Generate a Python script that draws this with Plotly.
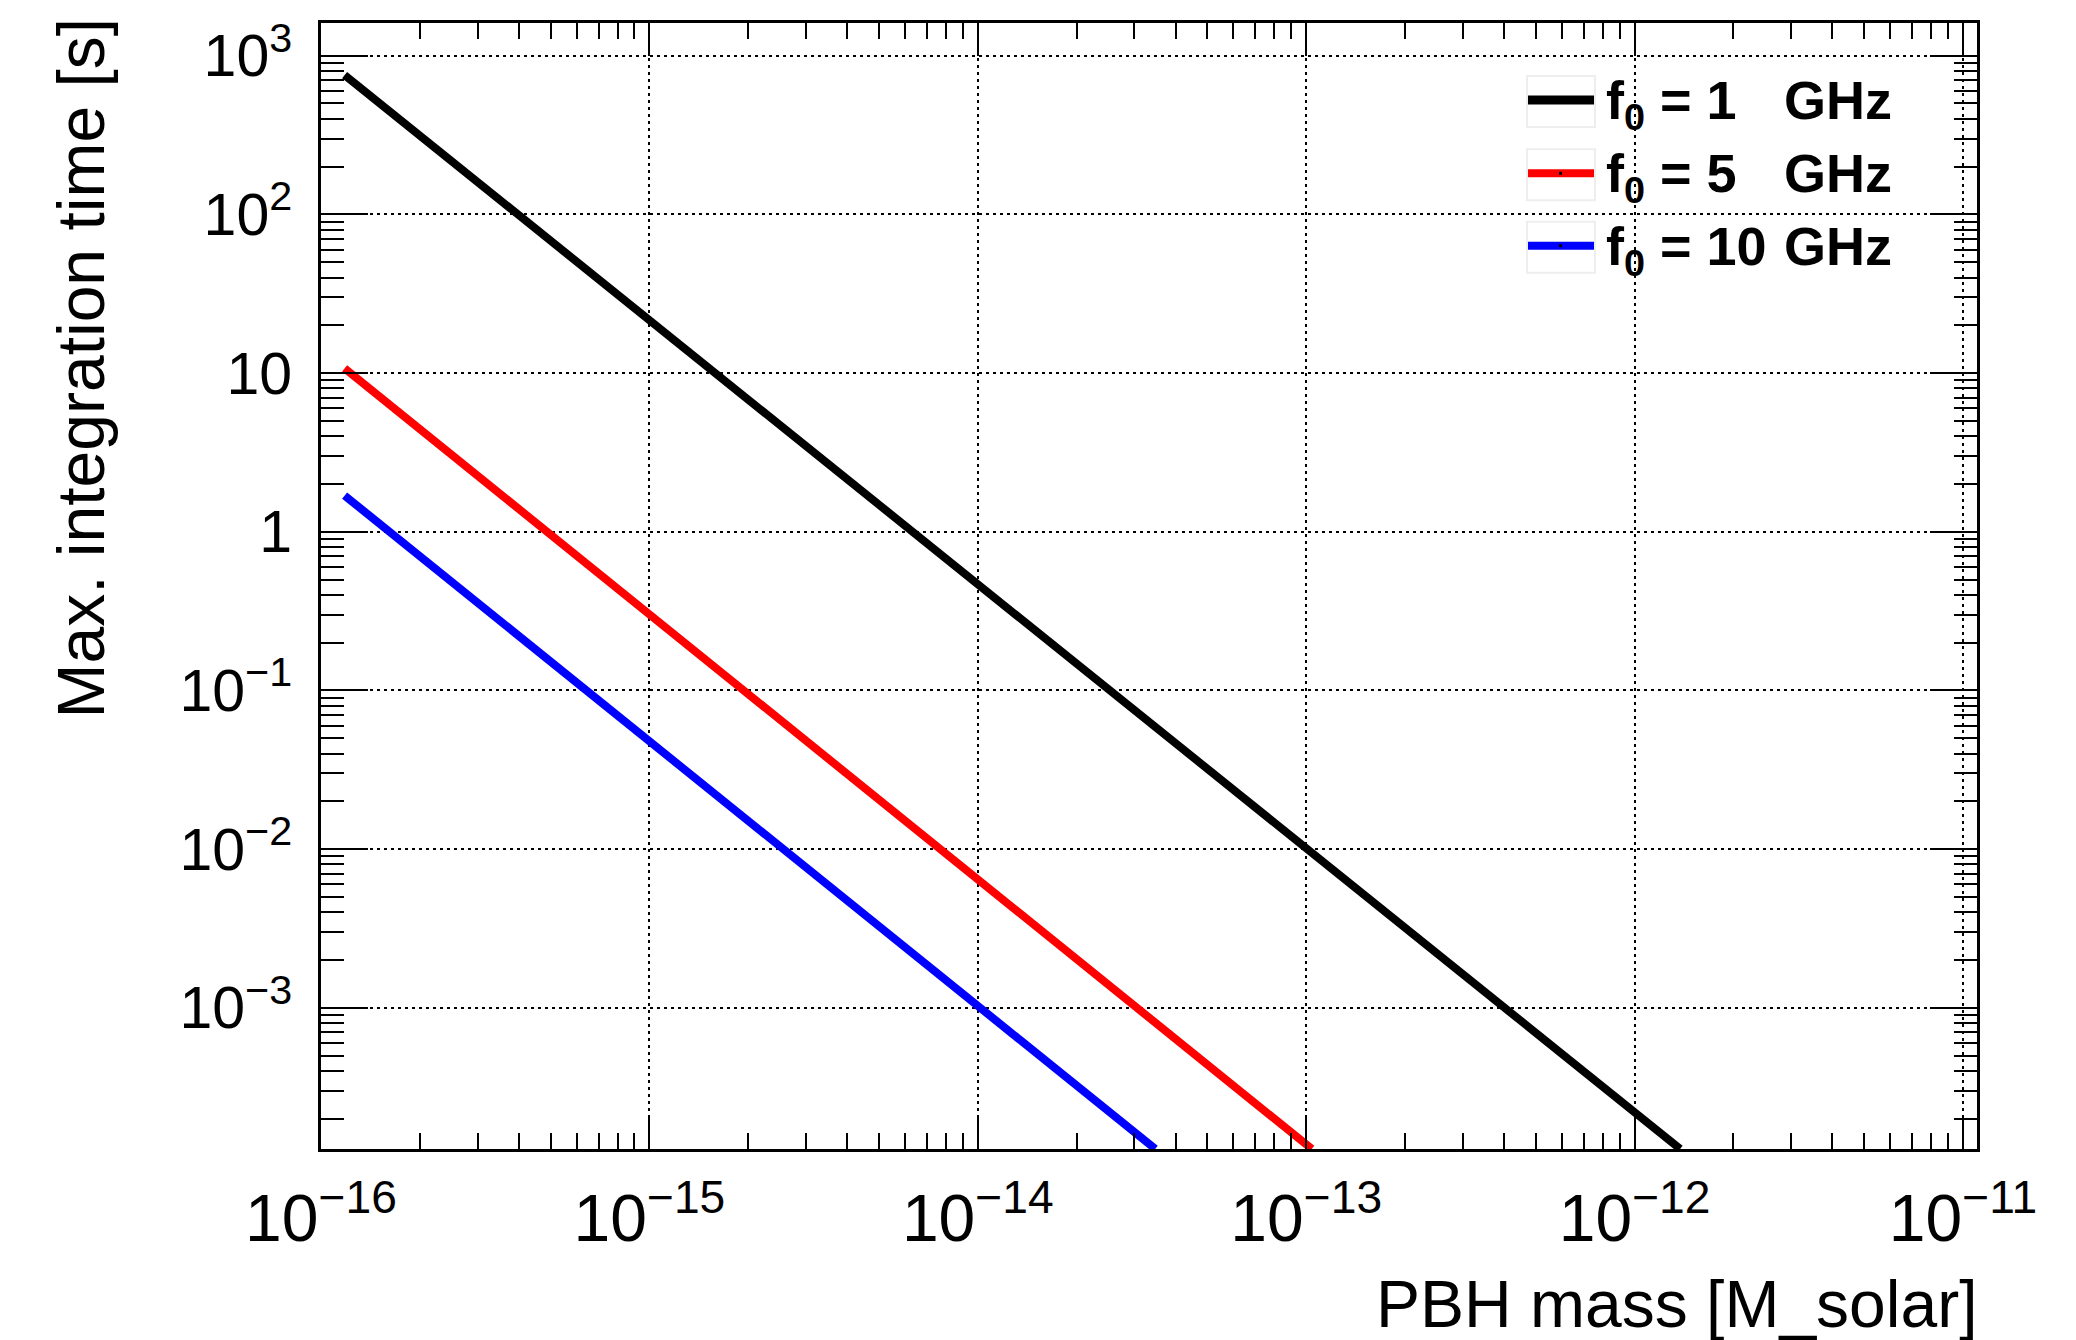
import plotly.graph_objects as go

# Maximum integration time versus PBH mass for three carrier frequencies.
# Each curve is a straight segment on log-log axes: (start mass, start time) -> (end mass, end time)
series_names = ["f<sub>0</sub> = 1", "f<sub>0</sub> = 5", "f<sub>0</sub> = 10"]
series_colors = ["#000000", "#ff0000", "#0000ff"]
mass_1ghz = [1.18e-16, 1.376e-12]
time_1ghz = [755.0, 1.29e-4]
mass_5ghz = [1.18e-16, 1.04e-13]
time_5ghz = [10.7, 1.29e-4]
mass_10ghz = [1.18e-16, 3.47e-14]
time_10ghz = [1.69, 1.29e-4]

x_tickvals = [1e-16, 1e-15, 1e-14, 1e-13, 1e-12, 1e-11]
x_ticktext = ["10<sup>\u221216</sup>", "10<sup>\u221215</sup>", "10<sup>\u221214</sup>",
              "10<sup>\u221213</sup>", "10<sup>\u221212</sup>", "10<sup>\u221211</sup>"]
y_tickvals = [1e3, 1e2, 1e1, 1e0, 1e-1, 1e-2, 1e-3]
y_ticktext = ["10<sup>3</sup>", "10<sup>2</sup>", "10", "1",
              "10<sup>\u22121</sup>", "10<sup>\u22122</sup>", "10<sup>\u22123</sup>"]

x_title = "PBH mass [M_solar]"
y_title = "Max. integration time [s]"

FONT = "Liberation Sans, Arial, Helvetica, sans-serif"
W, H = 2076, 1340
L, R, T, B = 321, 99, 23, 191
PW, PH = W - L - R, H - T - B

x_range = [-16, -10.9574]
y_range = [-3.89, 3.206]

# minor tick positions (2..9 of each decade)
x_minor = [k * 10.0 ** e for e in range(-16, -10) for k in range(2, 10)]
y_minor = [k * 10.0 ** e for e in range(-4, 4) for k in range(2, 10)]


def px_x(px):
    return (px - L) / PW


def px_y(py):
    return (H - B - py) / PH


fig = go.Figure()
for name, color, m, t in zip(series_names, series_colors,
                             [mass_1ghz, mass_5ghz, mass_10ghz],
                             [time_1ghz, time_5ghz, time_10ghz]):
    fig.add_trace(go.Scatter(x=m, y=t, mode="lines", name=name,
                             line=dict(color=color, width=8), showlegend=False))

# empty trace carrying the mirrored (top / right) tick axes
fig.add_trace(go.Scatter(x=[None], y=[None], xaxis="x2", yaxis="y2",
                         showlegend=False, hoverinfo="skip"))

grid = dict(showgrid=True, gridcolor="black", gridwidth=2, griddash="3px,4px")
common = dict(type="log", showline=True, linecolor="black", linewidth=3,
              ticks="inside", tickcolor="black", tickwidth=2, zeroline=False)

fig.update_layout(
    width=W, height=H, autosize=False,
    margin=dict(l=L, r=R, t=T, b=B, pad=0),
    paper_bgcolor="white", plot_bgcolor="white",
    xaxis=dict(range=x_range, tickmode="array", tickvals=x_tickvals, ticktext=x_ticktext,
               ticklen=33, mirror=True, ticklabelstandoff=10,
               tickfont=dict(family=FONT, size=66, color="black"),
               minor=dict(tickmode="array", tickvals=x_minor, ticks="inside", ticklen=16,
                          tickwidth=2, tickcolor="black", showgrid=False),
               **grid, **common),
    yaxis=dict(range=y_range, tickmode="array", tickvals=y_tickvals, ticktext=y_ticktext,
               ticklen=47, mirror=True, ticklabelstandoff=14,
               tickfont=dict(family=FONT, size=59, color="black"),
               minor=dict(tickmode="array", tickvals=y_minor, ticks="inside", ticklen=23,
                          tickwidth=2, tickcolor="black", showgrid=False),
               **grid, **common),
    xaxis2=dict(type="log", range=x_range, overlaying="x", side="top", anchor="y",
                tickmode="array", tickvals=x_tickvals, ticks="inside", ticklen=33,
                tickwidth=2, tickcolor="black", showticklabels=False, showgrid=False,
                showline=False, zeroline=False,
                minor=dict(tickmode="array", tickvals=x_minor, ticks="inside", ticklen=16,
                           tickwidth=2, tickcolor="black", showgrid=False)),
    yaxis2=dict(type="log", range=y_range, overlaying="y", side="right", anchor="x",
                tickmode="array", tickvals=y_tickvals, ticks="inside", ticklen=47,
                tickwidth=2, tickcolor="black", showticklabels=False, showgrid=False,
                showline=False, zeroline=False,
                minor=dict(tickmode="array", tickvals=y_minor, ticks="inside", ticklen=23,
                           tickwidth=2, tickcolor="black", showgrid=False)),
    showlegend=False,
)

annotations = [
    dict(text=x_title, xref="paper", yref="paper", x=px_x(1977), y=px_y(1267),
         xanchor="right", yanchor="top", showarrow=False, borderpad=0, borderwidth=0,
         font=dict(family=FONT, size=66, color="black")),
    dict(text=y_title, xref="paper", yref="paper", x=px_x(80), y=px_y(18),
         xanchor="center", yanchor="top", textangle=-90, showarrow=False,
         borderpad=0, borderwidth=0, font=dict(family=FONT, size=66, color="black")),
]

# legend block
shapes = []
row_y = [100.0, 173.3, 245.7]
for name, color, yc in zip(series_names, series_colors, row_y):
    shapes.append(dict(type="rect", xref="paper", yref="paper",
                       x0=px_x(1527), x1=px_x(1595), y0=px_y(yc - 24), y1=px_y(yc + 27),
                       line=dict(color="#eeeeee", width=2), fillcolor="white", layer="above"))
    shapes.append(dict(type="line", xref="paper", yref="paper",
                       x0=px_x(1528), x1=px_x(1594), y0=px_y(yc), y1=px_y(yc),
                       line=dict(color=color, width=9 if color == "#000000" else 8),
                       layer="above"))
    if color != "#000000":
        shapes.append(dict(type="rect", xref="paper", yref="paper",
                           x0=px_x(1559), x1=px_x(1562), y0=px_y(yc - 1.5), y1=px_y(yc + 1.5),
                           line=dict(width=0), fillcolor="black", layer="above"))
    for txt, x0 in (("<b>" + name + "</b>", 1606), ("<b>GHz</b>", 1784)):
        annotations.append(dict(text=txt, xref="paper", yref="paper",
                                x=px_x(x0), y=px_y(yc - 30), xanchor="left", yanchor="top",
                                showarrow=False, borderpad=0, borderwidth=0,
                                font=dict(family=FONT, size=54, color="black")))

fig.update_layout(annotations=annotations, shapes=shapes)

fig.write_html("out.html")
